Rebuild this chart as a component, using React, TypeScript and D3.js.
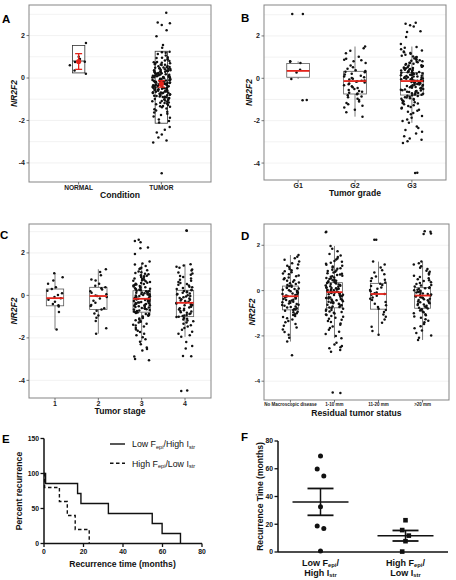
import React from "react";
import * as d3 from "d3";

const FONT = "'Liberation Sans', Arial, Helvetica, sans-serif";

// ---------------- Panel A: Condition ----------------
const A_CATS = ["NORMAL", "TUMOR"];
const A_NORMAL = [1.65, 1.0, 0.9, 0.77, 0.75, 0.6, 0.35, 0.2];
const A_TUMOR = [3.07, 2.62, 2.58, 2.5, 2.25, 1.97, 1.55, 1.43,
  1.24, 1.19, 1.13, 1.06, 1.21,
  .98, .94, .89, .87, .82, .8, .76, .95,
  .74, .7, .69, .65, .63, .61, .57, .55, .52, .51, .72, .64,
  .49, .46, .45, .44, .41, .38, .37, .34, .33, .31, .29, .28, .26, .48, .42, .36, .3,
  .24, .23, .21, .19, .18, .16, .15, .13, .12, .1, .08, .07, .05, .04, .02, .01, .22, .17, .11, .06, .03,
  -.01, -.03, -.05, -.06, -.08, -.09, -.11, -.12, -.13, -.15, -.16, -.18, -.19, -.21, -.22, -.23, -.24, -.02, -.07, -.14, -.2, -.17,
  -.26, -.27, -.29, -.31, -.32, -.33, -.35, -.36, -.37, -.39, -.4, -.42, -.43, -.45, -.46, -.48, -.49, -.28, -.34, -.41, -.47,
  -.51, -.53, -.54, -.55, -.57, -.59, -.6, -.62, -.63, -.65, -.67, -.68, -.7, -.71, -.72, -.74, -.56, -.64, -.69,
  -.76, -.78, -.81, -.82, -.84, -.87, -.88, -.9, -.93, -.94, -.96, -.99, -.85, -.79, -.91,
  -1.01, -1.04, -1.06, -1.1, -1.12, -1.16, -1.18, -1.21, -1.24, -1.08, -1.15,
  -1.27, -1.32, -1.35, -1.38, -1.44, -1.47, -1.33,
  -1.53, -1.59, -1.63, -1.68, -1.74,
  -1.81, -1.87, -1.96, -2.03, -2.1,
  -2.31, -2.44, -2.57, -2.66, -2.8, -2.95, -3.04, -4.49];
const A_BOX_LOW = [0.24, -2.13];
const A_BOX_MID = [0.8, -0.25];
const A_BOX_HIGH = [1.53, 1.26];

// ---------------- Panel B: Tumor grade ----------------
const B_CATS = ["G1", "G2", "G3"];
const B_G1 = [3.04, 3.03, .8, .78, .72, .4, .27, -.03, -1.02, -1.03];
const B_G2 = [1.5, 1.42, 1.3, 1.18, 1.02, .92, .88, .85, .8, .72, .6, .52, .45, .38, .35, .31, .28, .22, .18, .12, .08, .05, .02,
  -.02, -.06, -.1, -.12, -.14, -.16, -.2, -.24, -.28, -.33, -.37, -.42, -.46, -.5, -.55, -.6, -.64, -.68, -.72, -.75, -.8,
  -.86, -.9, -.97, -1.02, -1.1, -1.16, -1.22, -1.3, -1.38, -1.48, -1.6, -1.81];
const B_G3 = [2.62, 2.57, 2.5, 2.45, 2.22, 2.18, 1.95, 1.62,
  1.48, 1.44, 1.37, 1.31, 1.27, 1.23, 1.2, 1.16, 1.11, 1.07, 1.03, 1.01,
  .98, .96, .93, .9, .88, .85, .83, .8, .78, .76, .74, .72, .69, .67, .64, .62, .6, .58, .56, .54, .53, .51,
  .49, .47, .46, .44, .42, .4, .39, .37, .35, .33, .32, .3, .28, .27, .26,
  .24, .23, .21, .2, .18, .17, .15, .14, .12, .11, .09, .08, .06, .05, .03, .02, .01,
  -.01, -.02, -.04, -.05, -.07, -.08, -.1, -.11, -.12, -.13, -.15, -.16, -.18, -.19, -.21, -.22, -.24,
  -.26, -.27, -.29, -.3, -.32, -.33, -.35, -.36, -.38, -.39, -.41, -.42, -.44, -.45, -.47, -.48,
  -.51, -.53, -.54, -.56, -.58, -.6, -.61, -.63, -.65, -.67, -.69, -.71, -.73, -.74,
  -.76, -.78, -.8, -.82, -.84, -.87, -.89, -.91, -.94, -.96, -.98,
  -1.01, -1.04, -1.07, -1.1, -1.13, -1.16, -1.19, -1.23, -1.27, -1.31, -1.35, -1.39, -1.43, -1.48,
  -1.53, -1.58, -1.64, -1.7, -1.78, -1.86, -1.94, -2.02, -2.1,
  -2.28, -2.35, -2.44, -2.52, -2.6, -2.73, -2.84, -2.9, -2.97, -3.05, -4.46, -4.47];
const B_Q1 = [0.05, -0.74, -0.79];
const B_MED = [0.35, -0.13, -0.13];
const B_Q3 = [0.7, 0.33, 0.28];
const B_WLO = [-0.03, -1.81, -2.1];
const B_WHI = [0.8, 1.5, 1.5];

// ---------------- Panel C: Tumor stage ----------------
const C_CATS = ["1", "2", "3", "4"];
const C_S1 = [1.04, .85, .7, .55, .38, .3, .22, .1, .02, -.08, -.13, -.2, -.3, -.4, -.47, -.52, -.78, -1.6];
const C_S2 = [1.23, 1.1, .95, .75, .7, .55, .45, .38, .33, .28, .2, .12, .05, 0, -.03, -.08, -.15, -.25, -.35, -.45, -.5,
  -.6, -.66, -.72, -.85, -.95, -1.05, -1.2, -1.55, -1.8];
const C_S3 = [2.62, 2.56, 2.5, 2.25, 2.22, 1.95, 1.6,
  1.5, 1.45, 1.38, 1.3, 1.26, 1.24, 1.18, 1.13, 1.09, 1.05, 1.02,
  .99, .95, .92, .9, .86, .83, .8, .77, .74, .71, .69, .66, .63, .6, .58, .55, .53, .51,
  .49, .47, .44, .42, .4, .38, .36, .34, .31, .29, .27, .26,
  .24, .22, .21, .19, .17, .16, .14, .12, .1, .09, .07, .05, .04, .02, .01,
  -.01, -.03, -.04, -.06, -.08, -.09, -.11, -.13, -.14, -.16, -.17, -.19, -.2, -.22, -.24,
  -.26, -.28, -.29, -.31, -.33, -.34, -.36, -.37, -.39, -.41, -.43, -.44, -.46, -.48, -.49,
  -.51, -.53, -.55, -.57, -.59, -.61, -.63, -.65, -.67, -.69, -.71, -.73,
  -.76, -.78, -.81, -.83, -.86, -.88, -.91, -.93, -.96, -.99,
  -1.02, -1.06, -1.09, -1.13, -1.17, -1.21, -1.24, -1.28, -1.33, -1.38, -1.42, -1.47,
  -1.54, -1.6, -1.66, -1.72, -1.8, -1.88, -1.97, -2.06, -2.18,
  -2.3, -2.45, -2.52, -2.6, -2.88, -3.0, -3.05];
const C_S4 = [3.05, 3.04,
  1.46, 1.41, 1.35, 1.3, 1.22, 1.17, 1.08, 1.03, .97, .91, .87, .8, .74, .69, .63, .58, .54, .5, .46, .41, .38, .35, .3,
  .27, .24, .21, .18, .15, .12, .09, .06, .04, .01, -.03, -.05, -.09, -.12, -.15, -.18, -.2, -.24, -.27, -.3, -.33, -.36,
  -.38, -.42, -.45, -.47, -.51, -.54, -.57, -.6, -.63, -.66, -.7, -.73, -.76, -.79, -.82, -.85, -.88, -.92, -.95, -.97,
  -1.0, -1.02, -1.06, -1.1, -1.13, -1.18, -1.22, -1.28, -1.33, -1.4, -1.46, -1.53, -1.62, -1.71, -1.8, -1.88, -1.95,
  -2.2, -2.38, -2.5, -2.85, -2.86, -4.48, -4.5];
const C_Q1 = [-0.49, -0.66, -0.79, -1.0];
const C_MED = [-0.13, -0.03, -0.16, -0.35];
const C_Q3 = [0.3, 0.38, 0.22, 0.24];
const C_WLO = [-1.6, -1.8, -2.2, -1.95];
const C_WHI = [1.04, 1.23, 1.5, 1.46];

// ---------------- Panel D: Residual tumor status ----------------
const D_CATS = ["No Macroscopic disease", "1-10 mm", "11-20 mm", ">20 mm"];
const D_1 = [1.57, 1.49, 1.43, 1.36, 1.28, 1.21, 1.15, 1.1, 1.04, .99, .95, .9, .85, .81, .76, .72, .67, .63, .58, .55, .5,
  .46, .43, .39, .36, .32, .29, .25, .22, .2, .17, .14, .12, .09, .07, .04, .02, -.01, -.03, -.06, -.08, -.1, -.13, -.15,
  -.17, -.2, -.22, -.24, -.26, -.28, -.31, -.33, -.35, -.37, -.4, -.42, -.44, -.47, -.49, -.52, -.54, -.57, -.59, -.62,
  -.64, -.67, -.7, -.72, -.75, -.78, -.81, -.84, -.86, -.89, -.93, -.96, -1.0, -1.04, -1.08, -1.12, -1.17, -1.22, -1.28,
  -1.34, -1.4, -1.47, -1.55, -1.63, -1.72, -1.83, -1.95, -2.08, -2.25, -2.85];
const D_2 = [2.6, 2.58,
  1.97, 1.85, 1.74, 1.62, 1.55, 1.48, 1.42, 1.37, 1.31, 1.27, 1.23, 1.19, 1.14, 1.1, 1.06, 1.02, .99, .96, .92, .89, .86,
  .83, .8, .77, .74, .71, .69, .66, .63, .61, .58, .56, .53, .51, .48, .46, .44, .41, .39, .37, .35, .33, .31, .29, .27,
  .25, .23, .21, .19, .17, .15, .13, .12, .1, .08, .06, .05, .03, .01, -.01, -.02, -.04, -.06, -.07, -.09, -.11, -.12,
  -.14, -.16, -.18, -.19, -.21, -.23, -.25, -.27, -.29, -.31, -.33, -.35, -.37, -.39, -.41, -.43, -.45, -.47, -.49, -.51,
  -.53, -.56, -.58, -.6, -.62, -.65, -.67, -.7, -.72, -.75, -.77, -.8, -.83, -.86, -.89, -.92, -.95, -.98, -1.01, -1.05,
  -1.08, -1.12, -1.16, -1.2, -1.24, -1.29, -1.34, -1.39, -1.45, -1.51, -1.58, -1.65, -1.73, -1.82, -1.92, -2.0, -2.1,
  -2.3, -2.38, -2.45, -2.5, -2.55, -2.62, -2.7, -4.5, -4.52];
const D_3 = [2.25, 2.24, 1.28, 1.15, 1.02, .9, .8, .72, .62, .55, .48, .42, .36, .3, .25, .2, .14, .08, .03, -.03, -.08,
  -.12, -.15, -.18, -.23, -.3, -.36, -.42, -.5, -.58, -.65, -.72, -.8, -.86, -.95, -1.05, -1.15, -1.28, -1.42, -1.6,
  -1.78, -1.95];
const D_4 = [2.62, 2.6, 2.52, 2.5,
  1.28, 1.21, 1.15, 1.08, 1.01, .95, .88, .83, .77, .71, .66, .6, .55, .5, .46, .42, .37, .33, .29, .25, .22, .18, .15,
  .12, .1, .07, .04, .02, -.01, -.03, -.06, -.08, -.1, -.13, -.15, -.17, -.19, -.22, -.24, -.26, -.29, -.31, -.33, -.36,
  -.38, -.41, -.43, -.46, -.48, -.51, -.53, -.56, -.59, -.61, -.64, -.67, -.7, -.73, -.76, -.79, -.82, -.85, -.88, -.92,
  -.96, -1.0, -1.04, -1.09, -1.14, -1.2, -1.26, -1.33, -1.4, -1.48, -1.57, -1.66, -1.76, -1.87, -1.98, -2.08, -2.18];
const D_Q1 = [-0.85, -0.76, -0.82, -0.78];
const D_MED = [-0.25, -0.07, -0.15, -0.22];
const D_Q3 = [0.2, 0.35, 0.32, 0.13];
const D_WLO = [-2.25, -2.1, -1.95, -2.18];
const D_WHI = [1.57, 1.97, 1.28, 1.28];

const NR_TICKS = [-4, -2, 0, 2];

// ---------------- Panels E & F: recurrence ----------------
const RECUR_LOW_HIGH = [0.8, 17, 18.7, 32.6, 54.8, 59.8, 69.1];
const RECUR_HIGH_LOW = [0.3, 7.8, 11.8, 15.8, 22.9];
const E_Y_TICKS = [0, 50, 100, 150];
const E_X_TICKS = [0, 20, 40, 60, 80];
const F_Y_TICKS = [0, 20, 40, 60, 80];

function jit(i: number, g: number) {
  const s = Math.sin(i * 127.1 + g * 311.7 + 0.5) * 43758.5453;
  return s - Math.floor(s) - 0.5;
}

function tQuant(df: number) {
  const z = 1.959964;
  return z + (z ** 3 + z) / (4 * df) + (5 * z ** 5 + 16 * z ** 3 + 3 * z) / (96 * df * df) +
    (3 * z ** 7 + 19 * z ** 5 + 17 * z ** 3 - 15 * z) / (384 * df ** 3);
}

type PanelCfg = {
  x0: number; x1: number; y0: number; y1: number;
  domain: [number, number];
  cats: string[];
  groups: number[][];
  q1: number[]; med: number[]; q3: number[];
  wlo?: number[]; whi?: number[];
  boxFrac: number; jitFrac: number;
  catFont: number; catDy: number; yTickFont: number;
  xTitle: string;
  letter: string; lx: number; ly: number;
  ytx: number;
  meanCI?: boolean;
  seed: number;
};

function BoxPanel(c: PanelCfg) {
  const y = d3.scaleLinear().domain(c.domain).range([c.y1, c.y0]);
  const x = d3.scalePoint<string>().domain(c.cats).range([c.x0, c.x1]).padding(0.6);
  const step = x.step();
  const bw = step * c.boxFrac;
  const jw = step * c.jitFrac;
  const grid = d3.range(Math.ceil(c.domain[0]), Math.floor(c.domain[1]) + 1);
  const boxStroke = c.meanCI ? "#333" : "#5a5a5a";
  return (
    <g fontFamily={FONT}>
      <rect x={c.x0} y={c.y0} width={c.x1 - c.x0} height={c.y1 - c.y0} fill="#fff" />
      {grid.map((v) => (
        <line key={"g" + v} x1={c.x0} x2={c.x1} y1={y(v)} y2={y(v)} stroke="#efefef" strokeWidth={0.8} />
      ))}
      {c.cats.map((cat, i) => {
        const cx = x(cat)!;
        return (
          <g key={"b" + i}>
            {c.wlo && c.whi && (
              <>
                <line x1={cx} x2={cx} y1={y(c.q3[i])} y2={y(c.whi[i])} stroke={boxStroke} strokeWidth={0.8} />
                <line x1={cx} x2={cx} y1={y(c.q1[i])} y2={y(c.wlo[i])} stroke={boxStroke} strokeWidth={0.8} />
              </>
            )}
            <rect x={cx - bw / 2} y={y(c.q3[i])} width={bw} height={y(c.q1[i]) - y(c.q3[i])}
              fill="#fff" stroke={boxStroke} strokeWidth={0.8} />
            {c.meanCI && (
              <line x1={cx - bw / 2} x2={cx + bw / 2} y1={y(c.med[i])} y2={y(c.med[i])} stroke="#333" strokeWidth={0.9} />
            )}
          </g>
        );
      })}
      {c.groups.map((vals, gi) => {
        const cx = x(c.cats[gi])!;
        return vals.map((v, i) => (
          <circle key={"p" + gi + "_" + i} cx={cx + jit(i, gi + c.seed) * 2 * jw} cy={y(v)} r={1.25} fill="#111" />
        ));
      })}
      {!c.meanCI && c.cats.map((cat, i) => {
        const cx = x(cat)!;
        return (
          <line key={"m" + i} x1={cx - bw / 2} x2={cx + bw / 2} y1={y(c.med[i])} y2={y(c.med[i])}
            stroke="#e3241b" strokeWidth={1.8} />
        );
      })}
      {c.meanCI && c.groups.map((vals, gi) => {
        const cx = x(c.cats[gi])!;
        const m = d3.mean(vals)!;
        const se = d3.deviation(vals)! / Math.sqrt(vals.length);
        const h = tQuant(vals.length - 1) * se;
        return (
          <g key={"ci" + gi} stroke="#e3241b" strokeWidth={1.3}>
            <line x1={cx} x2={cx} y1={y(m - h)} y2={y(m + h)} />
            <line x1={cx - 3.5} x2={cx + 3.5} y1={y(m - h)} y2={y(m - h)} />
            <line x1={cx - 3.5} x2={cx + 3.5} y1={y(m + h)} y2={y(m + h)} />
            <circle cx={cx} cy={y(m)} r={2.6} fill="#e3241b" stroke="none" />
          </g>
        );
      })}
      <rect x={c.x0} y={c.y0} width={c.x1 - c.x0} height={c.y1 - c.y0} fill="none" stroke="#858585" strokeWidth={1} />
      {NR_TICKS.map((t) => (
        <g key={"yt" + t}>
          <line x1={c.x0 - 2.5} x2={c.x0} y1={y(t)} y2={y(t)} stroke="#555" strokeWidth={0.8} />
          <text x={c.x0 - 4} y={y(t)} dy="0.35em" textAnchor="end" fontSize={c.yTickFont} fontWeight="bold" fill="#222">
            {String(t)}
          </text>
        </g>
      ))}
      {c.cats.map((cat) => (
        <g key={"xt" + cat}>
          <line x1={x(cat)!} x2={x(cat)!} y1={c.y1} y2={c.y1 + 2.5} stroke="#555" strokeWidth={0.8} />
          <text x={x(cat)!} y={c.y1 + c.catDy} textAnchor="middle" fontSize={c.catFont} fontWeight="bold" fill="#222">
            {cat}
          </text>
        </g>
      ))}
      <text x={(c.x0 + c.x1) / 2} y={c.y1 + 16} textAnchor="middle" fontSize={8.6} fontWeight="bold" fill="#111">
        {c.xTitle}
      </text>
      <text transform={`translate(${c.ytx},${(c.y0 + c.y1) / 2}) rotate(-90)`} textAnchor="middle" fontSize={8.6}
        fontWeight="bold" fontStyle="italic" fill="#111">
        NR2F2
      </text>
      <text x={c.lx} y={c.ly} fontSize={11.5} fontWeight="bold" fill="#000">{c.letter}</text>
    </g>
  );
}

function PanelE() {
  const x = d3.scaleLinear().domain([0, 80]).range([44, 202]);
  const y = d3.scaleLinear().domain([0, 150]).range([543.5, 438.5]);
  const km = (times: number[]) => {
    const n = times.length;
    const pts: [number, number][] = [[0, 100]];
    times.forEach((t, k) => pts.push([t, (100 * (n - k - 1)) / n]));
    return d3.line<[number, number]>().x((d) => x(d[0])).y((d) => y(d[1])).curve(d3.curveStepAfter)(pts)!;
  };
  return (
    <g fontFamily={FONT}>
      <path d={km(RECUR_LOW_HIGH)} fill="none" stroke="#111" strokeWidth={1.4} />
      <path d={km(RECUR_HIGH_LOW)} fill="none" stroke="#111" strokeWidth={1.4} strokeDasharray="3.5,2.5" />
      <line x1={44} x2={44} y1={y(150)} y2={y(0)} stroke="#111" strokeWidth={1.5} />
      <line x1={44} x2={x(80)} y1={y(0)} y2={y(0)} stroke="#111" strokeWidth={1.5} />
      {E_Y_TICKS.map((t) => (
        <g key={"ey" + t}>
          <line x1={40.5} x2={44} y1={y(t)} y2={y(t)} stroke="#111" strokeWidth={1.3} />
          <text x={39} y={y(t)} dy="0.35em" textAnchor="end" fontSize={6.8} fontWeight="bold" fill="#111">{t}</text>
        </g>
      ))}
      {E_X_TICKS.map((t) => (
        <g key={"ex" + t}>
          <line x1={x(t)} x2={x(t)} y1={y(0)} y2={y(0) + 3.5} stroke="#111" strokeWidth={1.3} />
          <text x={x(t)} y={554} textAnchor="middle" fontSize={6.8} fontWeight="bold" fill="#111">{t}</text>
        </g>
      ))}
      <text x={122.5} y={566.5} textAnchor="middle" fontSize={8.6} fontWeight="bold" fill="#111">
        Recurrence time (months)
      </text>
      <text transform="translate(21.5,491) rotate(-90)" textAnchor="middle" fontSize={8.6} fontWeight="bold" fill="#111">
        Percent recurrence
      </text>
      <line x1={110} x2={125} y1={444} y2={444} stroke="#111" strokeWidth={1.4} />
      <line x1={110} x2={125} y1={463.3} y2={463.3} stroke="#111" strokeWidth={1.4} strokeDasharray="3.5,2.5" />
      <text x={132} y={447.3} fontSize={8.8} fill="#111">
        Low F<tspan fontSize={5.6} dy={1.8}>epi</tspan><tspan dy={-1.8}>/High I</tspan>
        <tspan fontSize={5.6} dy={1.8}>str</tspan>
      </text>
      <text x={132} y={466.6} fontSize={8.8} fill="#111">
        High F<tspan fontSize={5.6} dy={1.8}>epi</tspan><tspan dy={-1.8}>/Low I</tspan>
        <tspan fontSize={5.6} dy={1.8}>str</tspan>
      </text>
      <text x={2} y={443} fontSize={11.5} fontWeight="bold" fill="#000">E</text>
    </g>
  );
}

function PanelF() {
  const cats = ["lowHigh", "highLow"];
  const groups = [RECUR_LOW_HIGH, RECUR_HIGH_LOW];
  const x = d3.scalePoint<string>().domain(cats).range([278, 448]).padding(0.5);
  const y = d3.scaleLinear().domain([0, 80]).range([552, 441]);
  const offs = [0, -1, 1];
  return (
    <g fontFamily={FONT}>
      {groups.map((vals, gi) => {
        const cx = x(cats[gi])!;
        const sorted = [...vals].sort((a, b) => b - a);
        const m = d3.mean(vals)!;
        const se = d3.deviation(vals)! / Math.sqrt(vals.length);
        return (
          <g key={"fg" + gi}>
            {sorted.map((v, i) => {
              const px = cx + offs[i % 3] * 3.3;
              return gi === 0 ? (
                <circle key={i} cx={px} cy={y(v)} r={2.5} fill="#111" />
              ) : (
                <rect key={i} x={px - 2.3} y={y(v) - 2.3} width={4.6} height={4.6} fill="#111" />
              );
            })}
            <line x1={cx - 28} x2={cx + 28} y1={y(m)} y2={y(m)} stroke="#111" strokeWidth={1.5} />
            <line x1={cx} x2={cx} y1={y(m - se)} y2={y(m + se)} stroke="#111" strokeWidth={1.5} />
            <line x1={cx - 13} x2={cx + 13} y1={y(m + se)} y2={y(m + se)} stroke="#111" strokeWidth={1.8} />
            <line x1={cx - 13} x2={cx + 13} y1={y(m - se)} y2={y(m - se)} stroke="#111" strokeWidth={1.8} />
          </g>
        );
      })}
      <line x1={278} x2={278} y1={y(80)} y2={y(0)} stroke="#111" strokeWidth={1.5} />
      <line x1={278} x2={448} y1={y(0)} y2={y(0)} stroke="#111" strokeWidth={1.5} />
      {F_Y_TICKS.map((t) => (
        <g key={"fy" + t}>
          <line x1={274.5} x2={278} y1={y(t)} y2={y(t)} stroke="#111" strokeWidth={1.3} />
          <text x={273} y={y(t)} dy="0.35em" textAnchor="end" fontSize={6.8} fontWeight="bold" fill="#111">{t}</text>
        </g>
      ))}
      <text transform="translate(262.5,496.5) rotate(-90)" textAnchor="middle" fontSize={8.6} fontWeight="bold" fill="#111">
        Recurrence Time (months)
      </text>
      <text x={x(cats[0])!} y={565.5} textAnchor="middle" fontSize={9} fontWeight="bold" fill="#111">
        Low F<tspan fontSize={5.8} dy={1.8}>epi</tspan><tspan dy={-1.8}>/</tspan>
      </text>
      <text x={x(cats[0])!} y={575.5} textAnchor="middle" fontSize={9} fontWeight="bold" fill="#111">
        High I<tspan fontSize={5.8} dy={1.8}>str</tspan>
      </text>
      <text x={x(cats[1])!} y={565.5} textAnchor="middle" fontSize={9} fontWeight="bold" fill="#111">
        High F<tspan fontSize={5.8} dy={1.8}>epi</tspan><tspan dy={-1.8}>/</tspan>
      </text>
      <text x={x(cats[1])!} y={575.5} textAnchor="middle" fontSize={9} fontWeight="bold" fill="#111">
        Low I<tspan fontSize={5.8} dy={1.8}>str</tspan>
      </text>
      <text x={241} y={441} fontSize={11.5} fontWeight="bold" fill="#000">F</text>
    </g>
  );
}

export default function App() {
  return (
    <svg width={456} height={580} style={{ position: "absolute", left: 0, top: 0, background: "#fff" }}>
      <rect width={456} height={580} fill="#fff" />
      <BoxPanel x0={29} x1={211} y0={5} y1={182} domain={[-4.9, 3.44]} cats={A_CATS} groups={[A_NORMAL, A_TUMOR]}
        q1={A_BOX_LOW} med={A_BOX_MID} q3={A_BOX_HIGH} boxFrac={0.15} jitFrac={0.11} catFont={6.6} catDy={7.5}
        yTickFont={7} xTitle="Condition" letter="A" lx={2} ly={23} ytx={16.5} meanCI seed={1} />
      <BoxPanel x0={264} x1={446} y0={5} y1={180} domain={[-4.8, 3.46]} cats={B_CATS} groups={[B_G1, B_G2, B_G3]}
        q1={B_Q1} med={B_MED} q3={B_Q3} wlo={B_WLO} whi={B_WHI} boxFrac={0.4} jitFrac={0.2} catFont={7} catDy={7.6}
        yTickFont={7} xTitle="Tumor grade" letter="B" lx={241} ly={22} ytx={252} seed={5} />
      <BoxPanel x0={29} x1={211} y0={224} y1={398} domain={[-4.83, 3.36]} cats={C_CATS} groups={[C_S1, C_S2, C_S3, C_S4]}
        q1={C_Q1} med={C_MED} q3={C_Q3} wlo={C_WLO} whi={C_WHI} boxFrac={0.4} jitFrac={0.2} catFont={7} catDy={7.6}
        yTickFont={7} xTitle="Tumor stage" letter="C" lx={0} ly={239} ytx={16.5} seed={11} />
      <BoxPanel x0={264} x1={449} y0={224} y1={400} domain={[-4.83, 2.94]} cats={D_CATS} groups={[D_1, D_2, D_3, D_4]}
        q1={D_Q1} med={D_MED} q3={D_Q3} wlo={D_WLO} whi={D_WHI} boxFrac={0.36} jitFrac={0.2} catFont={4.5} catDy={6}
        yTickFont={6} xTitle="Residual tumor status" letter="D" lx={241} ly={240} ytx={255} seed={17} />
      <PanelE />
      <PanelF />
    </svg>
  );
}
